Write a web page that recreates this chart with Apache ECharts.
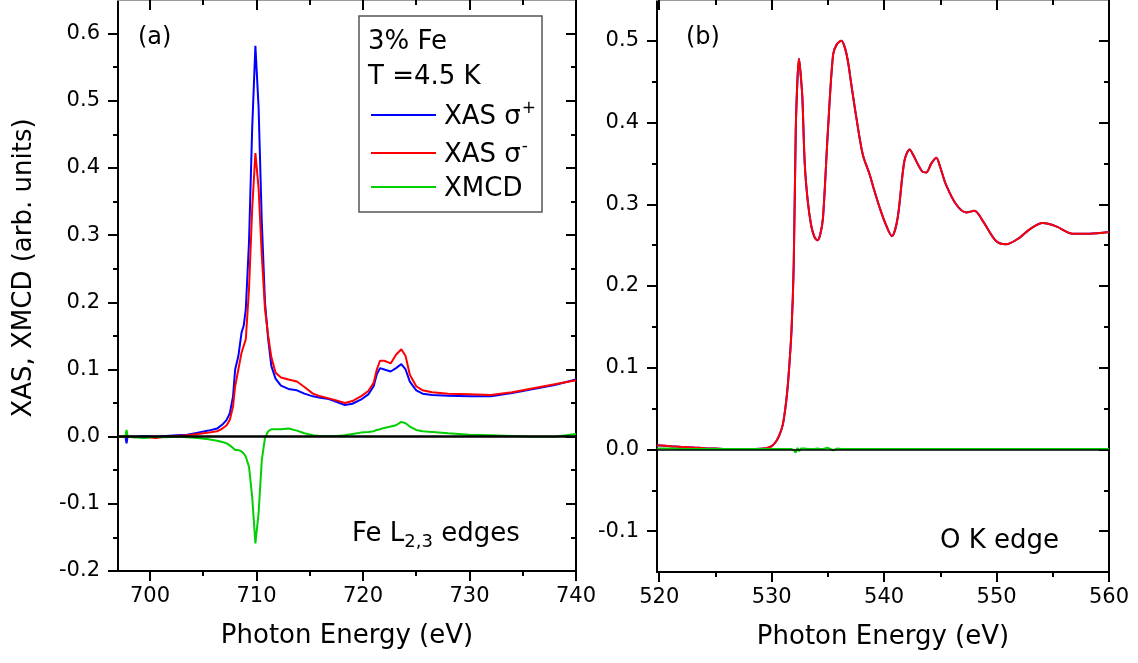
<!DOCTYPE html>
<html>
<head>
<meta charset="utf-8">
<script src="https://cdn.jsdelivr.net/npm/echarts@6.0.0/dist/echarts.min.js"></script>
<style>
  html, body { margin: 0; padding: 0; background: #fff; }
  #chart { width: 1138px; height: 663px; }
</style>
</head>
<body>
<div id="chart"></div>
<script>
// (a) Fe L2,3 edges
const feEnergy = [697, 697.7, 697.8, 697.9, 698.5, 699.5, 700.5, 701.5, 702.5, 703.5, 704.5, 705.5,
  706.3, 706.8, 707.2, 707.5, 707.8, 708.0, 708.3, 708.6, 708.8, 709.0,
  709.3, 709.6, 709.9, 710.2, 710.5, 710.8, 711.1, 711.4, 711.8, 712.3,
  713.0, 713.8, 714.5, 715.3, 716.0, 716.8, 717.5, 718.3, 719.0, 719.8,
  720.5, 721.0, 721.3, 721.6, 722.0, 722.6, 723.1, 723.6, 724.0, 724.4,
  725.0, 725.6, 726.5, 728, 730, 732, 734, 736, 738, 740];
const feSigmaPlus = [0.000, 0.000, -0.010, 0.000, 0.000, 0.001, 0.000, 0.001, 0.002, 0.003, 0.006, 0.009,
  0.012, 0.018, 0.025, 0.035, 0.060, 0.100, 0.120, 0.155, 0.165, 0.190,
  0.290, 0.460, 0.582, 0.490, 0.320, 0.200, 0.145, 0.105, 0.086, 0.076,
  0.071, 0.069, 0.064, 0.060, 0.058, 0.056, 0.052, 0.047, 0.049, 0.055,
  0.063, 0.075, 0.093, 0.102, 0.100, 0.097, 0.102, 0.108, 0.100, 0.082,
  0.069, 0.064, 0.062, 0.061, 0.060, 0.060, 0.065, 0.071, 0.077, 0.085];
const feSigmaMinus = [0.000, 0.000, 0.000, 0.000, -0.001, 0.000, -0.002, 0.000, 0.001, 0.002, 0.004, 0.006,
  0.008, 0.012, 0.017, 0.025, 0.045, 0.075, 0.100, 0.125, 0.135, 0.145,
  0.220, 0.340, 0.422, 0.370, 0.270, 0.190, 0.150, 0.118, 0.095, 0.088,
  0.085, 0.082, 0.074, 0.064, 0.060, 0.057, 0.054, 0.050, 0.053, 0.060,
  0.068, 0.080, 0.100, 0.113, 0.113, 0.109, 0.122, 0.130, 0.120, 0.092,
  0.075, 0.069, 0.066, 0.064, 0.063, 0.062, 0.066, 0.072, 0.078, 0.084];
const feXmcd = [0.000, 0.000, 0.010, 0.000, -0.001, -0.002, 0.000, -0.001, 0.000, -0.001, -0.002, -0.004,
  -0.006, -0.008, -0.010, -0.013, -0.017, -0.020, -0.020, -0.022, -0.025, -0.030,
  -0.045, -0.090, -0.159, -0.114, -0.035, -0.002, 0.008, 0.011, 0.011, 0.011,
  0.012, 0.009, 0.005, 0.002, 0.001, 0.001, 0.001, 0.002, 0.004, 0.006,
  0.007, 0.008, 0.010, 0.011, 0.013, 0.015, 0.017, 0.022, 0.020, 0.015,
  0.010, 0.008, 0.007, 0.005, 0.003, 0.002, 0.001, 0.000, 0.000, 0.004];

// (b) O K edge (sigma+ and sigma- lie on top of each other)
const oEnergy = [519.8, 521, 522, 523, 524, 525, 526, 527, 528, 529,
  529.5, 530, 530.4, 530.7, 531.0, 531.3, 531.5, 531.76, 531.96, 532.14,
  532.3, 532.43, 532.6, 532.73, 532.94, 533.2, 533.5, 533.8, 534.07, 534.3,
  534.56, 535.0, 535.46, 535.8, 536.2, 536.5, 536.78, 537.1, 537.53, 538.1,
  538.7, 539.1, 539.6, 540.1, 540.69, 541.2, 541.8, 542.27, 542.6, 543.0,
  543.4, 543.75, 544.2, 544.64, 545.0, 545.5, 546.4, 547.3, 548.04, 548.8,
  549.96, 550.85, 552.03, 553.0, 554.1, 555.3, 556.77, 558.25, 560];
const oXas = [0.005, 0.004, 0.003, 0.0025, 0.0015, 0.001, 0.0005, 0.0005, 0.0005, 0.0008,
  0.0015, 0.004, 0.010, 0.018, 0.031, 0.060, 0.090, 0.145, 0.226, 0.390,
  0.455, 0.478, 0.455, 0.430, 0.350, 0.305, 0.275, 0.260, 0.256, 0.262,
  0.283, 0.390, 0.483, 0.496, 0.500, 0.492, 0.475, 0.445, 0.406, 0.361,
  0.337, 0.318, 0.296, 0.277, 0.261, 0.283, 0.353, 0.367, 0.360, 0.349,
  0.340, 0.339, 0.350, 0.357, 0.345, 0.324, 0.300, 0.290, 0.292, 0.279,
  0.255, 0.251, 0.259, 0.270, 0.277, 0.273, 0.264, 0.264, 0.266];
const oXmcd = [0.001, 0.001, 0.0005, 0.0005, 0.0005, 0.0005, 0.0005, 0.0005, 0.0005, 0.0005,
  0.0005, 0.0005, 0.0005, 0.0005, 0.0005, 0.0005, 0.0005, 0.0005, -0.001, -0.004,
  0.002, -0.002, 0.001, 0.000, 0.001, 0.0005, 0.0005, 0.0005, 0.001, 0.0005,
  0.0005, 0.002, -0.001, 0.001, 0.0005, 0.0005, 0.0005, 0.0005, 0.0005, 0.0005,
  0.0005, 0.0005, 0.0005, 0.0005, 0.0005, 0.0005, 0.0005, 0.0005, 0.0005, 0.0005,
  0.0005, 0.0005, 0.0005, 0.0005, 0.0005, 0.0005, 0.0005, 0.0005, 0.0005, 0.0005,
  0.0005, 0.0005, 0.0005, 0.0005, 0.0005, 0.0005, 0.0005, 0.0005, 0.0005];

const feXTicks = [700, 710, 720, 730, 740];
const feXMinor = [705, 715, 725, 735];
const feYTicks = [-0.2, -0.1, 0, 0.1, 0.2, 0.3, 0.4, 0.5, 0.6];
const feYMinor = [-0.15, -0.05, 0.05, 0.15, 0.25, 0.35, 0.45, 0.55];
const oXTicks = [520, 530, 540, 550, 560];
const oXMinor = [525, 535, 545, 555];
const oYTicks = [-0.1, 0, 0.1, 0.2, 0.3, 0.4, 0.5];
const oYMinor = [-0.05, 0.05, 0.15, 0.25, 0.35, 0.45];

const FONT = 'DejaVu Sans';
const BLUE = '#0000ff', RED = '#ff0000', GREEN = '#00d000';

function zip(xs, ys) { return xs.map((x, i) => [x, ys[i]]); }

// an axis that only carries ticks (and labels on the major bottom/left ones)
function tickAxis(grid, pos, min, max, ticks, o) {
  return {
    type: 'value', gridIndex: grid, position: pos, min: min, max: max,
    axisLine: { show: !!o.line, onZero: false, lineStyle: { color: o.lineColor || '#000', width: 2 } },
    axisTick: { show: true, inside: !!o.inside, length: o.len, customValues: ticks,
      lineStyle: { color: '#000', width: 2 } },
    axisLabel: { show: !!o.label, customValues: ticks, margin: o.margin || 8,
      fontFamily: FONT, fontSize: 21, color: '#000', formatter: o.fmt },
    splitLine: { show: false },
    name: o.name || '', nameLocation: 'middle', nameGap: 52,
    nameTextStyle: { fontFamily: FONT, fontSize: 26, color: '#000' }
  };
}

function xAxesFor(grid, min, max, major, minor) {
  return [
    tickAxis(grid, 'bottom', min, max, major, { line: true, len: 10, label: true, margin: 15,
      fmt: v => String(v), name: 'Photon Energy (eV)' }),
    tickAxis(grid, 'bottom', min, max, minor, { len: 5 }),
    tickAxis(grid, 'top', min, max, major, { line: true, lineColor: '#999', inside: true, len: 10 }),
    tickAxis(grid, 'top', min, max, minor, { inside: true, len: 5 })
  ];
}
function yAxesFor(grid, min, max, major, minor) {
  return [
    tickAxis(grid, 'left', min, max, major, { line: true, len: 10, label: true, margin: 18,
      fmt: v => v.toFixed(1) }),
    tickAxis(grid, 'left', min, max, minor, { len: 5 }),
    tickAxis(grid, 'right', min, max, major, { line: true, inside: true, len: 10 }),
    tickAxis(grid, 'right', min, max, minor, { inside: true, len: 5 })
  ];
}

function curve(name, xi, yi, data, color, extra) {
  return Object.assign({
    name: name, type: 'line', xAxisIndex: xi, yAxisIndex: yi, data: data,
    symbol: 'none', showSymbol: false, lineStyle: { color: color, width: 2 },
    itemStyle: { color: color }, animation: false, silent: true
  }, extra || {});
}

function zeroLine(width) {
  return { markLine: { symbol: 'none', silent: true, label: { show: false }, animation: false,
    lineStyle: { color: '#000', width: width, type: 'solid' }, data: [{ yAxis: 0 }] } };
}

const supFmt = name => name === 'XAS σ+' ? '{m|XAS σ}{s|+}'
  : name === 'XAS σ-' ? '{m|XAS σ}{s|-}' : '{m|' + name + '}';

const chart = echarts.init(document.getElementById('chart'), null, { renderer: 'canvas' });
chart.setOption({
  animation: false,
  backgroundColor: '#fff',
  grid: [
    { left: 118, top: 0, width: 458, height: 571 },
    { left: 657, top: 0, width: 452, height: 572 }
  ],
  xAxis: [].concat(xAxesFor(0, 697, 740, feXTicks, feXMinor),
                   xAxesFor(1, 519.8, 560, oXTicks, oXMinor)),
  yAxis: [].concat(yAxesFor(0, -0.2, 0.65, feYTicks, feYMinor),
                   yAxesFor(1, -0.15, 0.55, oYTicks, oYMinor)),
  legend: {
    orient: 'vertical', left: 366, top: 95, itemWidth: 65, itemHeight: 2, itemGap: 3,
    icon: 'rect', selectedMode: false, data: ['XAS σ+', 'XAS σ-', 'XMCD'], formatter: supFmt,
    textStyle: { fontFamily: FONT, color: '#000', padding: [0, 0, 0, 3],
      rich: {
        m: { fontFamily: FONT, fontSize: 26, color: '#000', lineHeight: 30, verticalAlign: 'bottom' },
        s: { fontFamily: FONT, fontSize: 17, color: '#000', lineHeight: 17, verticalAlign: 'top',
          padding: [0, 0, 18, 1] }
      } }
  },
  graphic: [
    { type: 'rect', shape: { x: 359, y: 16, width: 183, height: 196 },
      style: { fill: 'none', stroke: '#555', lineWidth: 1.5 } },
    { type: 'text', x: 368, y: 42, style: { text: '3% Fe', font: '26px "DejaVu Sans"', fill: '#000', verticalAlign: 'middle' } },
    { type: 'text', x: 368, y: 77, style: { text: 'T =4.5 K', font: '26px "DejaVu Sans"', fill: '#000', verticalAlign: 'middle' } },
    { type: 'text', x: 138, y: 38, style: { text: '(a)', font: '24px "DejaVu Sans"', fill: '#000', verticalAlign: 'middle' } },
    { type: 'text', x: 686, y: 38, style: { text: '(b)', font: '24px "DejaVu Sans"', fill: '#000', verticalAlign: 'middle' } },
    { type: 'text', x: 24, y: 268, rotation: Math.PI / 2,
      style: { text: 'XAS, XMCD (arb. units)', font: '26px "DejaVu Sans"', fill: '#000', align: 'center', verticalAlign: 'middle' } },
    { type: 'text', x: 352, y: 521,
      style: { text: '{m|Fe L}{b|2,3}{m| edges}', fill: '#000',
        rich: {
          m: { fontFamily: FONT, fontSize: 26, lineHeight: 30, verticalAlign: 'top' },
          b: { fontFamily: FONT, fontSize: 18, lineHeight: 18, verticalAlign: 'top', padding: [12, 0, 0, 0] }
        } } },
    { type: 'text', x: 940, y: 541, style: { text: 'O K edge', font: '26px "DejaVu Sans"', fill: '#000', verticalAlign: 'middle' } }
  ],
  series: [
    curve('XAS σ+', 0, 0, zip(feEnergy, feSigmaPlus), BLUE, zeroLine(2.5)),
    curve('XAS σ-', 0, 0, zip(feEnergy, feSigmaMinus), RED),
    curve('XMCD', 0, 0, zip(feEnergy, feXmcd), GREEN),
    curve('XAS σ+', 4, 4, zip(oEnergy, oXas), BLUE, Object.assign({ smooth: 0.3 }, zeroLine(1.5))),
    curve('XAS σ-', 4, 4, zip(oEnergy, oXas), RED, { smooth: 0.3 }),
    curve('XMCD', 4, 4, zip(oEnergy, oXmcd), GREEN)
  ]
});
</script>
</body>
</html>
